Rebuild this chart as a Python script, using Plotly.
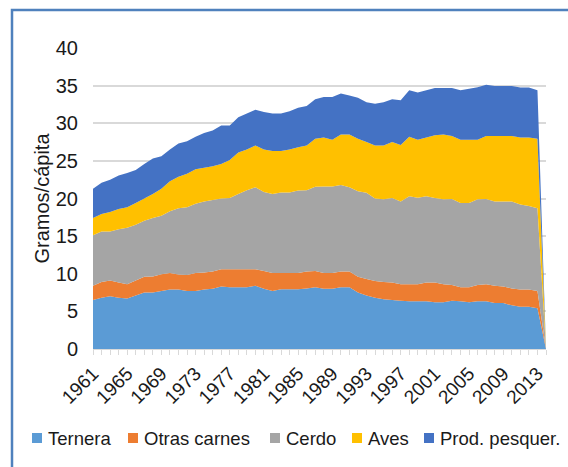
import plotly.graph_objects as go

years = list(range(1961, 2015))

ternera = [6.5, 6.8, 7.0, 6.8, 6.7, 7.1, 7.5, 7.5, 7.7, 7.9,
           7.9, 7.7, 7.7, 7.9, 8.0, 8.3, 8.2, 8.2, 8.2, 8.4,
           8.0, 7.7, 7.95, 7.95, 7.95, 8.05, 8.2, 8.0, 8.0, 8.2,
           8.2, 7.5, 7.1, 6.8, 6.6, 6.5, 6.4, 6.35, 6.35, 6.35,
           6.2, 6.2, 6.4, 6.35, 6.2, 6.35, 6.35, 6.1, 6.1, 5.8,
           5.6, 5.6, 5.4, 0]
otras = [1.9, 2.1, 2.1, 2.05, 1.9, 2.0, 2.1, 2.15, 2.25, 2.2,
         2.0, 2.15, 2.4, 2.25, 2.3, 2.3, 2.4, 2.4, 2.4, 2.2,
         2.35, 2.4, 2.15, 2.15, 2.15, 2.25, 2.15, 2.1, 2.1, 2.1,
         2.1, 2.1, 2.2, 2.25, 2.3, 2.35, 2.2, 2.25, 2.25, 2.5,
         2.65, 2.4, 2.1, 1.85, 2.0, 2.15, 2.25, 2.3, 2.2, 2.25,
         2.3, 2.3, 2.3, 0]
cerdo = [6.7, 6.7, 6.5, 7.05, 7.5, 7.4, 7.45, 7.75, 7.75, 8.2,
         8.8, 9.0, 9.2, 9.45, 9.5, 9.4, 9.45, 10.0, 10.5, 10.9,
         10.5, 10.5, 10.7, 10.7, 10.95, 10.8, 11.2, 11.5, 11.5, 11.5,
         11.2, 11.35, 11.45, 10.95, 11.0, 11.2, 11.0, 11.7, 11.5, 11.45,
         11.2, 11.3, 11.45, 11.2, 11.2, 11.4, 11.35, 11.2, 11.3, 11.55,
         11.3, 11.1, 11.0, 0]
aves = [2.3, 2.35, 2.6, 2.7, 2.75, 2.9, 2.95, 3.2, 3.6, 4.0,
        4.2, 4.45, 4.6, 4.5, 4.5, 4.6, 5.05, 5.5, 5.4, 5.55,
        5.65, 5.7, 5.5, 5.7, 5.75, 5.95, 6.4, 6.5, 6.2, 6.7,
        7.0, 7.0, 6.75, 7.05, 7.15, 7.45, 7.5, 7.9, 7.7, 7.8,
        8.35, 8.6, 8.35, 8.4, 8.4, 7.9, 8.35, 8.7, 8.7, 8.7,
        8.9, 9.1, 9.25, 0]
pesquer = [3.9, 4.15, 4.3, 4.45, 4.55, 4.4, 4.6, 4.7, 4.3, 4.2,
           4.4, 4.3, 4.3, 4.6, 4.75, 5.1, 4.6, 4.7, 4.8, 4.75,
           5.0, 5.0, 5.0, 5.1, 5.25, 5.25, 5.25, 5.4, 5.7, 5.45,
           5.2, 5.45, 5.3, 5.55, 5.75, 5.7, 5.95, 6.2, 6.3, 6.3,
           6.3, 6.2, 6.4, 6.6, 6.8, 7.0, 6.8, 6.65, 6.65, 6.65,
           6.65, 6.65, 6.45, 0]

series_names = ["Ternera", "Otras carnes", "Cerdo", "Aves", "Prod. pesquer."]
series_values = [ternera, otras, cerdo, aves, pesquer]
colors = ["#5B9BD5", "#ED7D31", "#A5A5A5", "#FFC000", "#4472C4"]

tick_years = list(range(1961, 2014, 4))
tick_labels = [str(y) for y in tick_years]

W, H = 568, 467
ML, MR, MT, MB = 93, 22, 48, 118
PW, PH = W - ML - MR, H - MT - MB


def px(x):
    return (x - ML) / PW


def py(y):
    return (H - MB - y) / PH


FONT = "Liberation Sans, Arial, sans-serif"
TXT = "#1a1a1a"

fig = go.Figure()
for name, vals, col in zip(series_names, series_values, colors):
    fig.add_trace(go.Scatter(
        x=years, y=vals, name=name, stackgroup="one", mode="none",
        fillcolor=col, line=dict(width=0), showlegend=False,
    ))

shapes = []
# outer frame (left and top visible)
shapes.append(dict(type="path", xref="paper", yref="paper",
                   path=f"M {px(12)} {py(470)} L {px(12)} {py(10)} L {px(580)} {py(10)}",
                   line=dict(color="#4F81BD", width=2.5)))

annotations = []
legend_pos = [(32, 46), (128, 142), (270, 284), (352, 366), (424, 438)]
LY = 438
for (sx, tx), name, col in zip(legend_pos, series_names, colors):
    shapes.append(dict(type="rect", xref="paper", yref="paper",
                       x0=px(sx), x1=px(sx + 10), y0=py(LY + 5), y1=py(LY - 5),
                       fillcolor=col, line=dict(width=0)))
    annotations.append(dict(xref="paper", yref="paper", x=px(tx), y=py(LY),
                            text=name, showarrow=False, xanchor="left", yanchor="middle",
                            font=dict(family=FONT, size=18.5, color=TXT)))

fig.update_layout(
    width=W, height=H,
    margin=dict(l=ML, r=MR, t=MT, b=MB, autoexpand=False),
    paper_bgcolor="white", plot_bgcolor="white",
    font=dict(family=FONT, color=TXT),
    shapes=shapes, annotations=annotations,
    xaxis=dict(
        range=[1961, 2014], tickmode="array", tickvals=tick_years, ticktext=tick_labels,
        tickangle=-45, tickfont=dict(size=19, color=TXT),
        showgrid=False, zeroline=False, showline=True, linecolor="#D9D9D9", linewidth=1,
        ticks="outside", ticklen=5, tickcolor="#D9D9D9", tickwidth=1,
        minor=dict(dtick=1, tick0=1961, ticks="outside", ticklen=5, tickcolor="#D9D9D9", tickwidth=1),
        automargin=False,
    ),
    yaxis=dict(
        range=[0, 40], dtick=5, tick0=0,
        tickfont=dict(size=20, color=TXT),
        showgrid=True, gridcolor="#D9D9D9", gridwidth=1.5,
        zeroline=False, showline=False, ticks="",
        ticklabelstandoff=14,
        title=dict(text="Gramos/cápita", font=dict(size=20, color=TXT), standoff=0),
        automargin=False,
    ),
)

fig.write_html(
    "out.html",
    config={"displayModeBar": False},
    post_script="document.body.style.margin='0';document.body.style.overflow='hidden';",
)
